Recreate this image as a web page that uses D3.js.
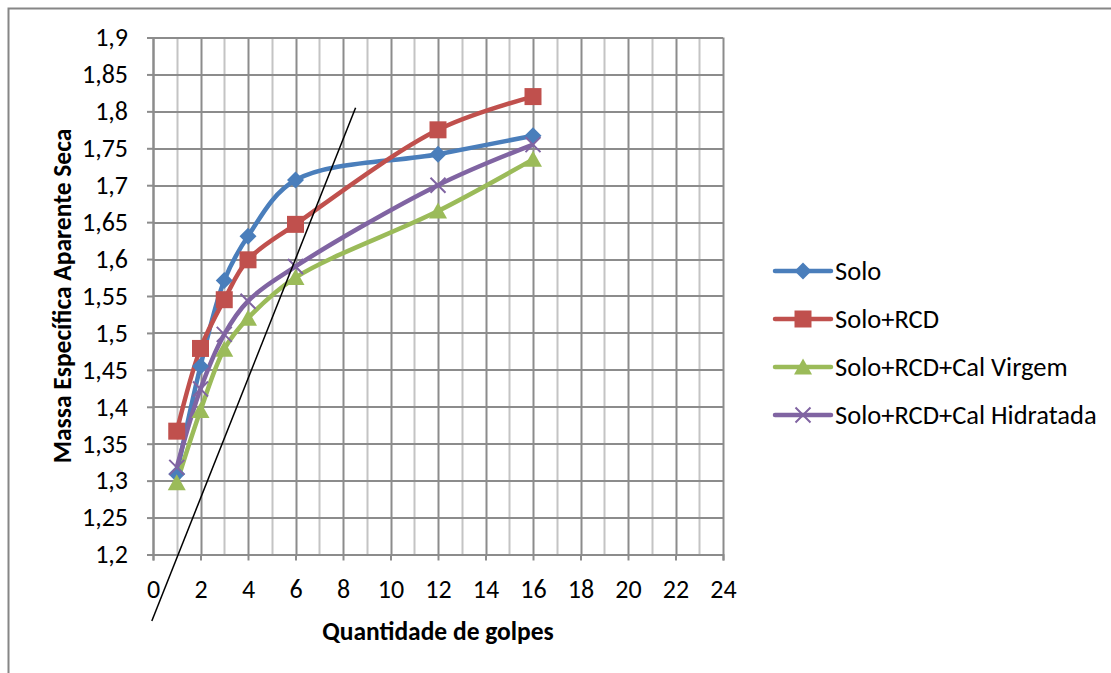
<!DOCTYPE html>
<html>
<head>
<meta charset="utf-8">
<script src="https://cdn.jsdelivr.net/npm/d3@7"></script>
<style>
  body { margin:0; background:#fff; }
  svg { font-family: Carlito, Calibri, "Liberation Sans", sans-serif; }
  .tick text { font-size:26px; fill:#000; }
  .title { font-size:25.5px; font-weight:bold; }
  .legendText { font-size:26.5px; }
</style>
</head>
<body>
<svg></svg>
<script>

// values
var golpes = [1,2,3,4,6,12,16];
var solo         = [1.309,1.455,1.571,1.631,1.707,1.742,1.767];
var soloRcd      = [1.367,1.479,1.545,1.599,1.647,1.775,1.820];
var calVirgem    = [1.297,1.395,1.478,1.520,1.575,1.665,1.735];
var calHidratada = [1.318,1.424,1.498,1.543,1.590,1.700,1.755];

var seriesNames  = ["Solo","Solo+RCD","Solo+RCD+Cal Virgem","Solo+RCD+Cal Hidratada"];
var seriesColors = ["#4A7EBB","#C0504D","#9BBB59","#8064A2"];
var seriesMarks  = ["diamond","square","triangle","cross"];

var xTicks = [0,2,4,6,8,10,12,14,16,18,20,22,24];
var xGrid  = [0,1,2,3,4,5,6,7,8,9,10,11,12,13,14,15,16,17,18,19,20,21,22,23,24];
var yTicks = [1.2,1.25,1.3,1.35,1.4,1.45,1.5,1.55,1.6,1.65,1.7,1.75,1.8,1.85,1.9];

// the straight black line drawn over the chart
var refLine = [[-0.05,1.11],[8.53,1.805]];

var screen = {width:1111,height:673};
var margins = {left:153,top:37.5};
var graph = {width:570,height:517};

var markPath = function(kind)
{
    if(kind=="diamond") { return "M0,-8.5L8.5,0L0,8.5L-8.5,0Z"; }
    if(kind=="square")  { return "M-8.5,-8.5L8.5,-8.5L8.5,8.5L-8.5,8.5Z"; }
    if(kind=="triangle"){ return "M0,-8.5L9,7.5L-9,7.5Z"; }
    return "M-7.5,-7.5L7.5,7.5M-7.5,7.5L7.5,-7.5";
}

var drawMark = function(target,kind,color)
{
    var p = target.append("path").attr("d",markPath(kind));
    if(kind=="cross")
    {
        p.attr("fill","none").attr("stroke",color).attr("stroke-width",2);
    }
    else
    {
        p.attr("fill",color);
    }
}

var initGraph = function()
{
    var svg = d3.select("svg")
        .attr("width",screen.width)
        .attr("height",screen.height);

    // outer frame (only top and left edges show)
    svg.append("path")
        .attr("d","M8.5,673V8.5H1111")
        .attr("fill","none")
        .attr("stroke","#868686")
        .attr("stroke-width",2);

    var xScale = d3.scaleLinear().domain([0,24]).range([0,graph.width]);
    var yScale = d3.scaleLinear().domain([1.2,1.9]).range([graph.height,0]);

    var target = svg.append("g")
        .attr("transform","translate("+margins.left+","+margins.top+")");

    // grid
    target.append("g").selectAll("line")
        .data(xGrid)
        .enter()
        .append("line")
        .attr("x1",function(d){ return Math.round(xScale(d))+0.5; })
        .attr("x2",function(d){ return Math.round(xScale(d))+0.5; })
        .attr("y1",0)
        .attr("y2",graph.height)
        .attr("stroke",function(d){ return d%2==0 ? "#8c8c8c" : "#c4c4c4"; })
        .attr("stroke-width",2);

    target.append("g").selectAll("line")
        .data(yTicks)
        .enter()
        .append("line")
        .attr("x1",0)
        .attr("x2",graph.width)
        .attr("y1",function(d){ return Math.round(yScale(d))+0.5; })
        .attr("y2",function(d){ return Math.round(yScale(d))+0.5; })
        .attr("stroke","#8c8c8c")
        .attr("stroke-width",2);

    // axes
    var xAxis = d3.axisBottom(xScale).tickValues(xTicks).tickSize(6).tickPadding(19);
    var yAxis = d3.axisLeft(yScale).tickValues(yTicks).tickSize(6).tickPadding(19)
        .tickFormat(function(d){ return String(+d.toFixed(2)).replace(".",","); });

    var xg = target.append("g")
        .attr("transform","translate(0,"+graph.height+")")
        .call(xAxis);
    var yg = target.append("g").call(yAxis);
    [xg,yg].forEach(function(g)
    {
        g.select(".domain").attr("stroke","#8c8c8c").attr("stroke-width",2);
        g.selectAll(".tick line").attr("stroke","#8c8c8c").attr("stroke-width",2);
        g.attr("font-family",null).attr("font-size",null);
    });

    // series
    var allSeries = [solo,soloRcd,calVirgem,calHidratada];
    var line = d3.line()
        .x(function(d,i){ return xScale(golpes[i]); })
        .y(function(d){ return yScale(d); })
        .curve(d3.curveCatmullRom);

    allSeries.forEach(function(values,s)
    {
        target.append("path")
            .datum(values)
            .attr("d",line)
            .attr("fill","none")
            .attr("stroke",seriesColors[s])
            .attr("stroke-width",4.5)
            .attr("stroke-linejoin","round");
    });
    allSeries.forEach(function(values,s)
    {
        values.forEach(function(v,i)
        {
            var g = target.append("g")
                .attr("transform","translate("+xScale(golpes[i])+","+yScale(v)+")");
            drawMark(g,seriesMarks[s],seriesColors[s]);
        });
    });

    // black reference line
    target.append("line")
        .attr("x1",xScale(refLine[0][0]))
        .attr("y1",yScale(refLine[0][1]))
        .attr("x2",xScale(refLine[1][0]))
        .attr("y2",yScale(refLine[1][1]))
        .attr("stroke","#000")
        .attr("stroke-width",1.5);

    // titles
    svg.append("text")
        .text("Quantidade de golpes")
        .classed("title",true)
        .attr("text-anchor","middle")
        .attr("x",margins.left+graph.width/2)
        .attr("y",640);

    svg.append("g")
        .attr("transform","translate(71,"+(margins.top+graph.height/2)+")")
        .append("text")
        .text("Massa Específica Aparente Seca")
        .classed("title",true)
        .attr("text-anchor","middle")
        .attr("transform","rotate(-90)");

    // legend
    var legend = svg.append("g")
        .attr("transform","translate(775,271)");
    var entries = legend.selectAll("g")
        .data(seriesNames)
        .enter()
        .append("g")
        .attr("transform",function(d,i){ return "translate(0,"+i*48+")"; });

    entries.append("line")
        .attr("x1",0)
        .attr("x2",56)
        .attr("stroke",function(d,i){ return seriesColors[i]; })
        .attr("stroke-width",4.5)
        .attr("stroke-linecap","round");
    entries.each(function(d,i)
    {
        var g = d3.select(this).append("g").attr("transform","translate(28,0)");
        drawMark(g,seriesMarks[i],seriesColors[i]);
    });
    entries.append("text")
        .text(function(d){ return d; })
        .classed("legendText",true)
        .attr("x",60)
        .attr("y",9);
}

initGraph();
</script>
</body>
</html>
